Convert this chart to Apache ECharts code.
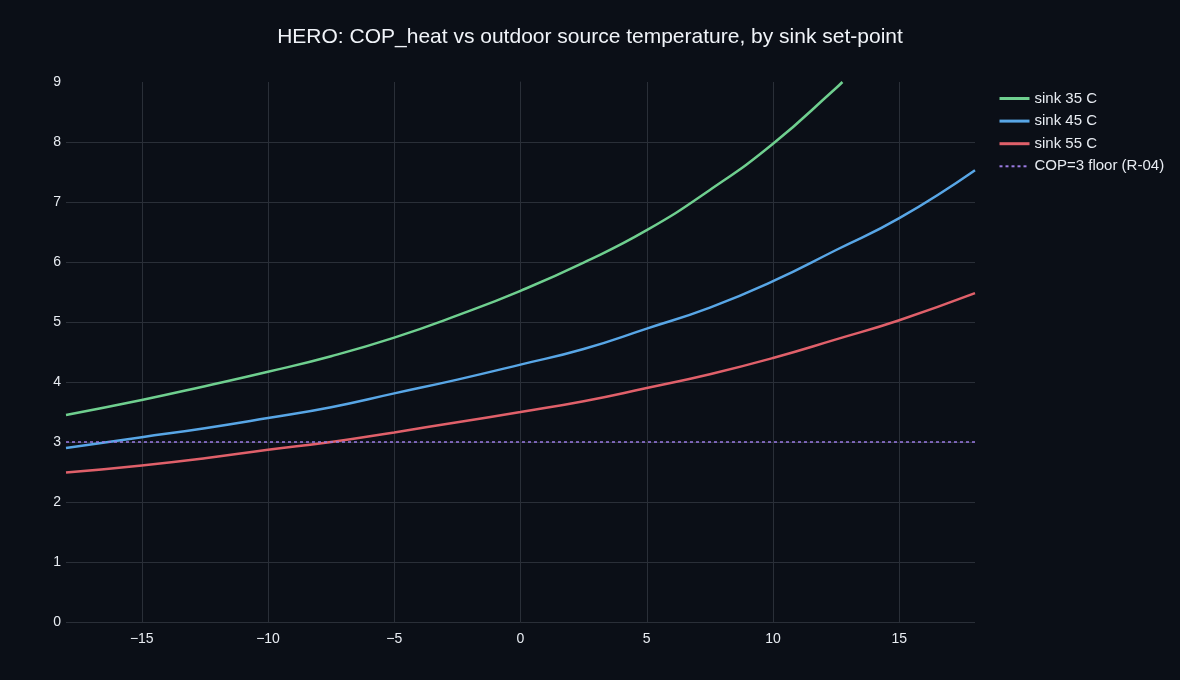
<!DOCTYPE html>
<html>
<head>
<meta charset="utf-8">
<script src="https://cdn.jsdelivr.net/npm/echarts@6/dist/echarts.min.js"></script>
<style>
html,body{margin:0;padding:0;background:#0b0f17;}
#chart{width:1180px;height:680px;}
</style>
</head>
<body>
<div id="chart"></div>
<script>
const xSource = [-18, -15, -12.5, -10, -7.5, -5, -2.5, 0, 2.5, 5, 7.5, 10, 12.5, 15, 18];
const xSink35 = [-18, -15, -12.5, -10, -7.5, -5, -2.5, 0, 2.5, 5, 7.5, 10, 12.5, 12.75];
const cop35 = [3.45, 3.70, 3.93, 4.17, 4.43, 4.74, 5.11, 5.52, 5.99, 6.53, 7.20, 7.97, 8.90, 9.00];
const cop45 = [2.90, 3.08, 3.23, 3.40, 3.58, 3.81, 4.04, 4.29, 4.55, 4.89, 5.24, 5.68, 6.20, 6.73, 7.53];
const cop55 = [2.49, 2.61, 2.73, 2.87, 3.00, 3.16, 3.33, 3.50, 3.68, 3.90, 4.13, 4.40, 4.71, 5.03, 5.48];
const floorX = [-18, 18];
const floorY = [3, 3];
const seriesNames = ['sink 35 C', 'sink 45 C', 'sink 55 C', 'COP=3 floor (R-04)'];
const titleText = 'HERO: COP_heat vs outdoor source temperature, by sink set-point';

const pair = (xs, ys) => xs.map((x, i) => [x, ys[i]]);
const FONT = '"Liberation Sans", Arial, sans-serif';
const gridColor = '#2a2f38';
const textColor = '#e8ecf2';

const chart = echarts.init(document.getElementById('chart'));
const lineSeries = (name, data, color) => ({
  name, type: 'line', data, smooth: 0.5, showSymbol: false, symbol: 'none',
  lineStyle: { color, width: 2.5 }, itemStyle: { color }, clip: true
});
chart.setOption({
  backgroundColor: '#0b0f17',
  animation: false,
  title: {
    text: titleText, left: 'center', top: 22,
    textStyle: { color: '#f0f3f8', fontSize: 21, fontWeight: 'normal', fontFamily: FONT }
  },
  legend: {
    orient: 'vertical', left: 993, top: 86, itemWidth: 30, itemHeight: 14, itemGap: 7.6,
    itemStyle: { opacity: 0 },
    textStyle: { color: textColor, fontSize: 15, fontFamily: FONT },
    data: [
      { name: seriesNames[0], lineStyle: { width: 3 } },
      { name: seriesNames[1], lineStyle: { width: 3 } },
      { name: seriesNames[2], lineStyle: { width: 3 } },
      { name: seriesNames[3], lineStyle: { width: 2 } }
    ]
  },
  grid: { left: 66, right: 205, top: 82, bottom: 58, containLabel: false },
  xAxis: {
    type: 'value', min: -18, max: 18, splitNumber: 7, minInterval: 5, maxInterval: 5,
    axisLine: { show: false }, axisTick: { show: false },
    splitLine: { show: true, showMinLine: false, showMaxLine: false, lineStyle: { color: gridColor, width: 1 } },
    axisLabel: {
      color: textColor, fontSize: 14, fontFamily: FONT, margin: 10,
      showMinLabel: false, showMaxLabel: false,
      formatter: v => (Math.abs(v % 5) < 1e-9 ? String(v).replace('-', '\u2212') : '')
    }
  },
  yAxis: {
    type: 'value', min: 0, max: 9, interval: 1,
    axisLine: { show: true, lineStyle: { color: gridColor } }, axisTick: { show: false },
    splitLine: { show: true, showMaxLine: false, lineStyle: { color: gridColor, width: 1 } },
    axisLabel: { color: textColor, fontSize: 14, fontFamily: FONT, margin: 5 }
  },
  series: [
    lineSeries(seriesNames[0], pair(xSink35, cop35), '#6fcf8f'),
    lineSeries(seriesNames[1], pair(xSource, cop45), '#58a6e6'),
    lineSeries(seriesNames[2], pair(xSource, cop55), '#e0606a'),
    {
      name: seriesNames[3], type: 'line', data: pair(floorX, floorY), showSymbol: false, symbol: 'none',
      lineStyle: { color: '#9b7be3', width: 1.5, type: [3, 3] }, itemStyle: { color: '#9b7be3' }
    }
  ]
});
</script>
</body>
</html>
